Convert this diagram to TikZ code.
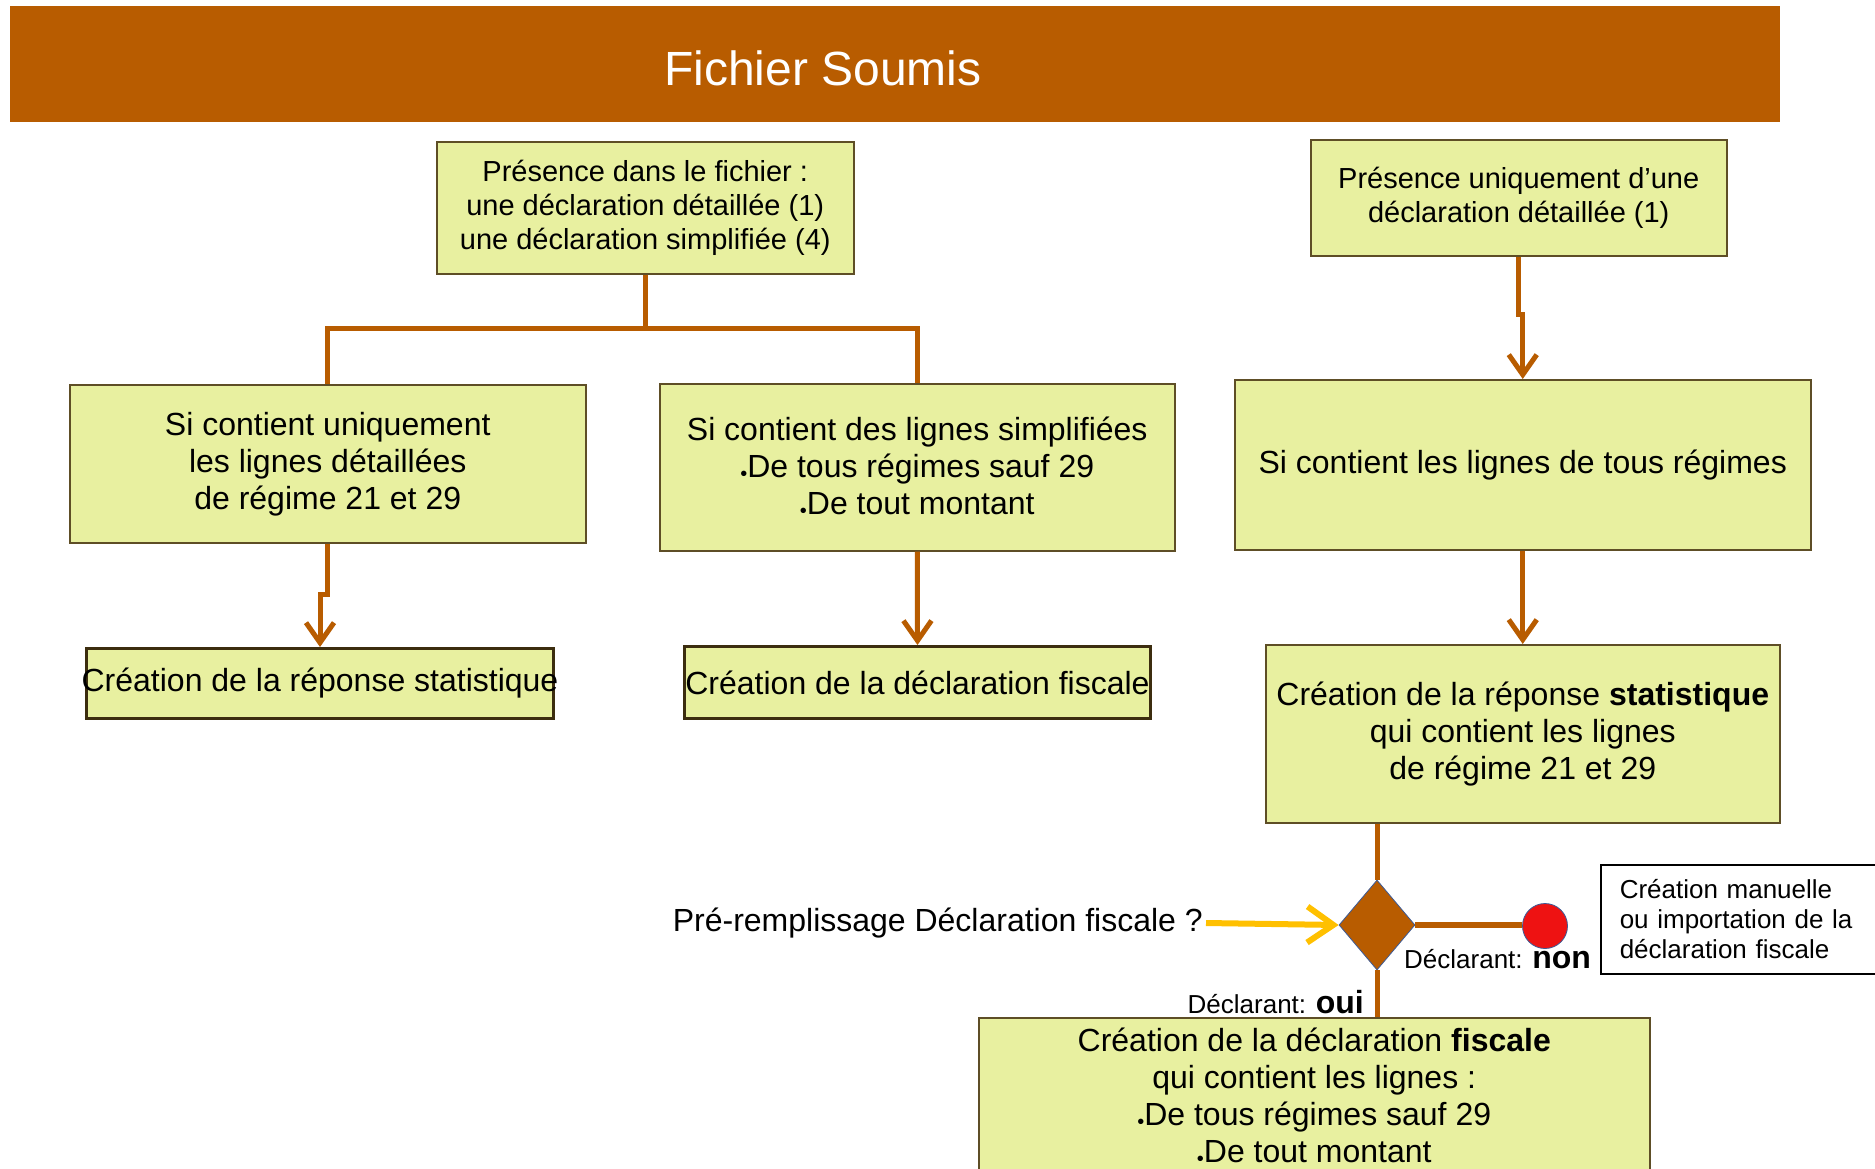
\documentclass[tikz,border=0pt]{standalone}
\usepackage{fontspec}
\setmainfont{Liberation Sans}
\usetikzlibrary{arrows.meta,shapes.geometric}
\definecolor{brn}{RGB}{184,92,0}
\definecolor{boxfill}{RGB}{232,240,160}
\definecolor{boxline}{RGB}{94,78,38}
\definecolor{darkline}{RGB}{60,45,15}
\definecolor{gold}{RGB}{255,192,0}
\definecolor{redc}{RGB}{238,18,18}
\definecolor{bluel}{RGB}{60,90,150}
\newcommand{\blt}{{\fontsize{20}{20}\selectfont\raisebox{-3pt}{•}}}
\begin{document}
\begin{tikzpicture}[x=1pt,y=-1pt,
  box/.style={draw=boxline,line width=1.5pt,fill=boxfill,inner sep=0pt,align=center,anchor=north west,
    font=\fontsize{32}{37}\selectfont},
  smallbox/.style={box,font=\fontsize{29}{34}\selectfont},
  thickbox/.style={box,draw=darkline,line width=3pt},
  conn/.style={draw=brn,line width=5pt},
  arr/.style={conn,-{Straight Barb[length=20pt,width=28pt]}},
  yarr/.style={draw=gold,line width=6pt,-{Straight Barb[length=26pt,width=36pt]}},
  lbl/.style={inner sep=0pt,font=\fontsize{26}{30}\selectfont}
]
\useasboundingbox (0,0) rectangle (1875,1168);
\fill[white] (0,0) rectangle (1875,1168);
\clip (0,0) rectangle (1875,1168);

% banner
\node[fill=brn,inner sep=0pt,minimum width=1770pt,minimum height=116pt,anchor=north west] (banner) at (10,6) {};
\node[text=white,font=\fontsize{48}{52}\selectfont,inner sep=0pt] (title) at (823,68) {Fichier Soumis};

% boxes
\node[smallbox,minimum width=417pt,minimum height=132pt] (A) at (436,141)
  {Présence dans le fichier :\\une déclaration détaillée (1)\\une déclaration simplifiée (4)};
\node[smallbox,minimum width=416pt,minimum height=116pt] (B) at (1310,139)
  {Présence uniquement d’une\\déclaration détaillée (1)};
\node[box,minimum width=516pt,minimum height=158pt] (C) at (69,384)
  {Si contient uniquement\\les lignes détaillées\\de régime 21 et 29};
\node[box,minimum width=515pt,minimum height=167pt] (D) at (659,383)
  {Si contient des lignes simplifiées\\\blt De tous régimes sauf 29\\\blt De tout montant};
\node[box,minimum width=576pt,minimum height=170pt] (G) at (1234,379)
  {Si contient les lignes de tous régimes};
\node[thickbox,minimum width=467pt,minimum height=70pt] (E) at (85,647)
  {\makebox[0pt]{Création de la réponse statistique}};
\node[thickbox,minimum width=466pt,minimum height=72pt] (F) at (683,645)
  {\makebox[0pt]{Création de la déclaration fiscale}};
\node[box,minimum width=514pt,minimum height=178pt] (H) at (1265,644)
  {Création de la réponse \textbf{statistique}\\qui contient les lignes\\de régime 21 et 29};
\node[box,minimum width=671pt,minimum height=158pt] (J) at (978,1017)
  {Création de la déclaration \textbf{fiscale}\\qui contient les lignes :\\\blt De tous régimes sauf 29\\\blt De tout montant};
\node[draw=black,line width=1.5pt,fill=white,anchor=north west,inner xsep=19pt,inner ysep=0pt,
  text width=262pt,minimum height=109pt,align=left,font=\fontsize{26}{30}\selectfont] (I) at (1600,864)
  {Création manuelle\\ou importation de la\\déclaration fiscale};

% decision
\node[diamond,fill=brn,draw=bluel,line width=0.8pt,minimum width=76pt,minimum height=90pt,inner sep=0pt] (dia) at (1377,925) {};
\node[circle,fill=redc,draw=bluel,line width=0.8pt,minimum size=45pt,inner sep=0pt] (red) at (1545,926) {};
\node[anchor=east,inner sep=3pt,font=\fontsize{32}{37}\selectfont] (q) at (1206,923) {Pré-remplissage Déclaration fiscale ?};
\node[lbl,anchor=base west] (non) at (1404,968) {Déclarant: {\fontsize{32}{32}\selectfont\textbf{non}}};
\node[lbl,anchor=base east] (oui) at (1364,1013) {Déclarant: {\fontsize{32}{32}\selectfont\textbf{oui}}};

% connectors
\draw[conn] (A.south) -- ++(0,54) -| (C.north);
\draw[conn] (A.south) -- ++(0,54) -| (D.north);
\draw[arr] (B.south) -- ++(0,58) -| (G.north);
\draw[arr] (C.south) -- ++(0,51) -| (E.north);
\draw[arr] (D.south) -- (F.north);
\draw[arr] (G.south) -- (H.north);
\draw[conn] (dia.north |- H.south) -- (dia.north);
\draw[conn] (dia.south) -- (dia.south |- J.north);
\draw[draw=brn,line width=6.5pt] (dia.east) -- (dia.east -| red.west);
\draw[yarr] (q.east) -- (dia.west);
\end{tikzpicture}
\end{document}
